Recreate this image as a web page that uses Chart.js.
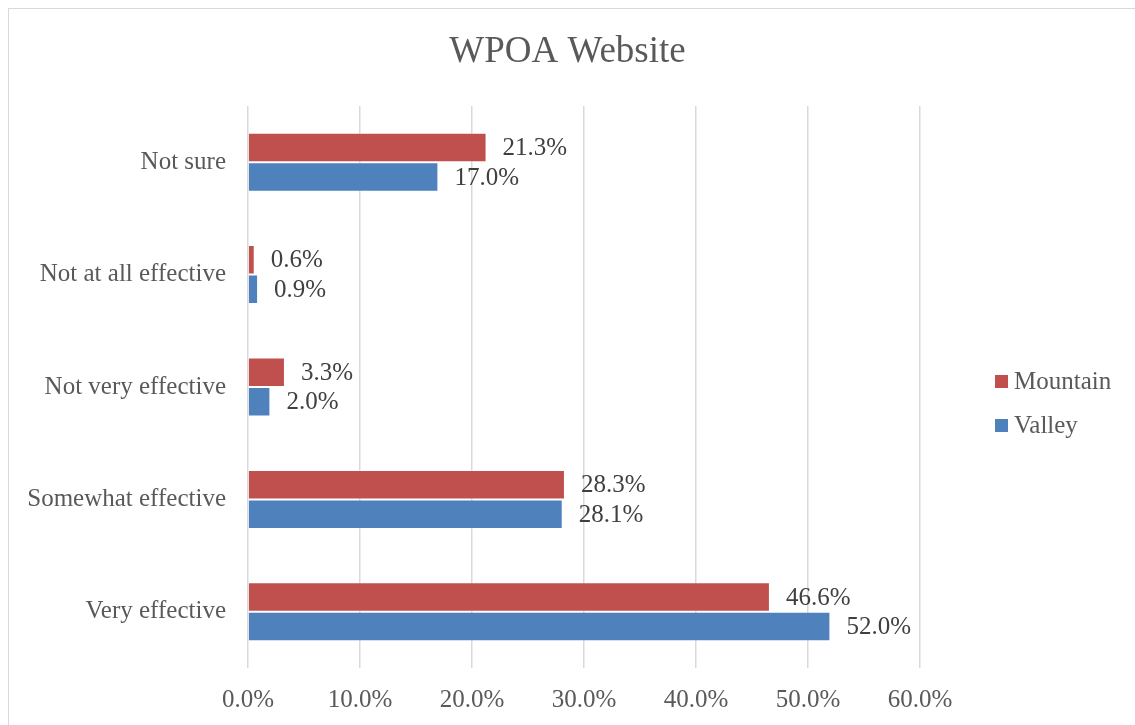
<!DOCTYPE html>
<html>
<head>
<meta charset="utf-8">
<title>WPOA Website</title>
<script src="https://cdn.jsdelivr.net/npm/chart.js@4/dist/chart.umd.min.js"></script>
<style>
  html, body { margin: 0; padding: 0; background: #fff; overflow: hidden; }
  #wrap { position: relative; width: 1135px; height: 725px; }
  #frame { position: absolute; left: 8px; top: 8px; width: 1200px; height: 800px;
           border: 1px solid #d9d9d9; box-sizing: border-box; pointer-events: none; }
  canvas { position: absolute; left: 0; top: 0; }
</style>
</head>
<body>
<div id="wrap">
  <canvas id="myChart" width="1135" height="725"></canvas>
  <div id="frame"></div>
</div>
<script>
// Survey answers (top to bottom) and share of responses per area, in percent
var categories = ['Not sure', 'Not at all effective', 'Not very effective', 'Somewhat effective', 'Very effective'];
var mountain = [21.3, 0.6, 3.3, 28.3, 46.6];
var valley = [17.0, 0.9, 2.0, 28.1, 52.0];
var xTicks = [0, 10, 20, 30, 40, 50, 60];
var chartTitle = 'WPOA Website';

var fontFamily = '"Liberation Serif", "Times New Roman", serif';
var textGray = '#595959';

// Title centred across the whole canvas (legend column included)
var wideTitle = {
    id: 'wideTitle',
    afterDraw: function (chart) {
        var ctx = chart.ctx;
        ctx.save();
        ctx.font = '37px ' + fontFamily;
        ctx.fillStyle = textGray;
        ctx.textAlign = 'center';
        ctx.textBaseline = 'alphabetic';
        ctx.fillText(chartTitle, chart.width / 2, 62);
        ctx.restore();
    }
};

// Value labels just past the end of each bar
var barLabels = {
    id: 'barLabels',
    afterDatasetsDraw: function (chart) {
        var ctx = chart.ctx;
        ctx.save();
        ctx.font = '25px ' + fontFamily;
        ctx.fillStyle = '#404040';
        ctx.textAlign = 'left';
        ctx.textBaseline = 'middle';
        chart.data.datasets.forEach(function (ds, i) {
            chart.getDatasetMeta(i).data.forEach(function (bar, j) {
                ctx.fillText(ds.data[j].toFixed(1) + '%', bar.x + 16, bar.y + 1);
            });
        });
        ctx.restore();
    }
};

// Legend drawn beside the plot, square swatch + name
var sideLegend = {
    id: 'sideLegend',
    afterDraw: function (chart) {
        var ctx = chart.ctx;
        var area = chart.chartArea;
        var x = area.right + 75;
        var ys = [381, 425];
        ctx.save();
        ctx.font = '25px ' + fontFamily;
        ctx.textAlign = 'left';
        ctx.textBaseline = 'middle';
        chart.data.datasets.forEach(function (ds, i) {
            ctx.fillStyle = ds.backgroundColor;
            ctx.fillRect(x, ys[i] - 6, 13, 13);
            ctx.fillStyle = textGray;
            ctx.fillText(ds.label, x + 19, ys[i] + 1);
        });
        ctx.restore();
    }
};

var ctx = document.getElementById('myChart').getContext('2d');
var myChart = new Chart(ctx, {
    type: 'bar',
    data: {
        labels: categories,
        datasets: [{
            label: 'Mountain',
            data: mountain,
            backgroundColor: '#C0504D',
            borderColor: 'rgba(255, 255, 255, 0.3)',
            borderWidth: 1,
            categoryPercentage: 0.525,
            barPercentage: 1.0
        }, {
            label: 'Valley',
            data: valley,
            backgroundColor: '#4F81BD',
            borderColor: 'rgba(255, 255, 255, 0.3)',
            borderWidth: 1,
            categoryPercentage: 0.525,
            barPercentage: 1.0
        }]
    },
    plugins: [wideTitle, barLabels, sideLegend],
    options: {
        indexAxis: 'y',
        responsive: false,
        animation: false,
        layout: {
            padding: { left: 0, right: 215, top: 106, bottom: 10 }
        },
        plugins: {
            legend: { display: false },
            tooltip: { enabled: false },
            title: { display: false }
        },
        scales: {
            x: {
                min: 0,
                max: 60,
                afterBuildTicks: function (scale) {
                    scale.ticks = xTicks.map(function (v) { return { value: v }; });
                },
                afterFit: function (scale) { scale.height = 47; },
                ticks: {
                    color: textGray,
                    padding: 17,
                    maxRotation: 0,
                    font: { family: fontFamily, size: 25 },
                    callback: function (v) { return v.toFixed(1) + '%'; }
                },
                grid: { color: '#d9d9d9', lineWidth: 1.5, drawTicks: false },
                border: { display: false }
            },
            y: {
                afterFit: function (scale) { scale.width = 248; },
                ticks: {
                    color: textGray,
                    padding: 22,
                    font: { family: fontFamily, size: 25 }
                },
                grid: { display: false, drawTicks: false },
                border: { display: false }
            }
        }
    }
});
</script>
</body>
</html>
